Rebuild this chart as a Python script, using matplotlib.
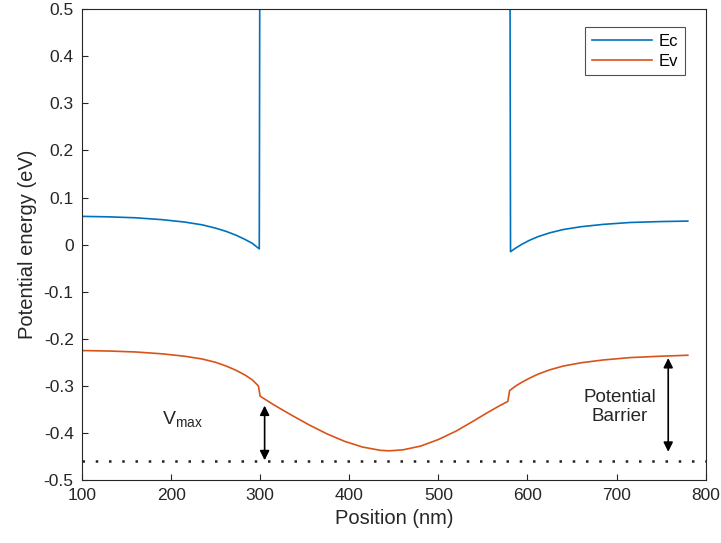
import matplotlib
matplotlib.use("Agg")
import matplotlib.pyplot as plt

plt.rcParams['font.family'] = ['Liberation Sans', 'DejaVu Sans']
plt.rcParams['mathtext.fontset'] = 'custom'
plt.rcParams['mathtext.rm'] = 'Liberation Sans'

# conduction band (Ec), goes off the top between 300 and 580 nm
ec_x = [100, 130, 160, 190, 215, 235, 250, 262, 273, 283, 291, 299, 300, 440, 580, 581, 587, 594, 602, 612, 625, 640,
        660, 685, 715, 750, 780]
ec_y = [0.060, 0.059, 0.057, 0.053, 0.048, 0.042, 0.035, 0.028, 0.020, 0.011, 0.003, -0.009, 1.0, 1.0, 1.0, -0.015,
        -0.007, 0.001, 0.009, 0.017, 0.025, 0.032, 0.038, 0.043, 0.047, 0.049, 0.050]

# valence band (Ev)
ev_x = [100, 130, 160, 190, 215, 235, 250, 262, 273, 283, 291, 298, 300, 315, 335, 355, 375, 395, 415, 435, 445,
        460, 480, 500, 520, 540, 555, 568, 578, 580, 587, 594, 602, 612, 625, 640, 660, 685, 715, 750, 780]
ev_y = [-0.225, -0.226, -0.228, -0.232, -0.237, -0.243, -0.250, -0.258, -0.267, -0.277, -0.287, -0.300, -0.322,
        -0.340, -0.362, -0.383, -0.402, -0.418, -0.430, -0.437, -0.438, -0.436, -0.428, -0.414, -0.396, -0.374,
        -0.357, -0.343, -0.333, -0.310, -0.300, -0.292, -0.284, -0.275, -0.266, -0.258, -0.251, -0.245, -0.240,
        -0.237, -0.235]

fermi = -0.46

fig = plt.figure(figsize=(7.21, 5.43), dpi=100)
ax = fig.add_axes([0.1137, 0.116, 0.865, 0.867])

ax.plot(ec_x, ec_y, color='#0072BD', lw=1.2, label='Ec')
ax.plot(ev_x, ev_y, color='#D95319', lw=1.2, label='Ev')
ax.plot([100, 800], [fermi, fermi], color='#222222', lw=1.8, linestyle=(0, (1, 4.3)))

arrow = dict(arrowstyle='<|-|>', color='black', lw=1.2, mutation_scale=14, shrinkA=0, shrinkB=0)
ax.annotate('', xy=(305, -0.458), xytext=(305, -0.342), arrowprops=arrow)
ax.annotate('', xy=(758, -0.44), xytext=(758, -0.241), arrowprops=arrow)

ax.text(213, -0.373, r'V$_{\mathrm{max}}$', fontsize=14, color='#262626', ha='center', va='center')
ax.text(704, -0.345, 'Potential\nBarrier', fontsize=13.5, color='#262626', ha='center', va='center', linespacing=1.15)

ax.set_xlim(100, 800)
ax.set_ylim(-0.5, 0.5)
ax.set_xticks(range(100, 801, 100))
ax.set_yticks([-0.5, -0.4, -0.3, -0.2, -0.1, 0, 0.1, 0.2, 0.3, 0.4, 0.5])
ax.set_yticklabels(['-0.5', '-0.4', '-0.3', '-0.2', '-0.1', '0', '0.1', '0.2', '0.3', '0.4', '0.5'])
ax.tick_params(direction='in', length=4, labelsize=12.5, colors='#262626', top=False, right=False, pad=6)
for s in ax.spines.values():
    s.set_color('#262626')
    s.set_linewidth(0.8)

ax.set_xlabel('Position (nm)', fontsize=14.5, color='#262626', labelpad=4)
ax.set_ylabel('Potential energy (eV)', fontsize=14.5, color='#262626', labelpad=5)

leg = ax.legend(loc='upper right', fontsize=12, frameon=True, fancybox=False,
                edgecolor='#262626', handlelength=3.6, borderpad=0.4, labelspacing=0.3,
                handletextpad=0.4, bbox_to_anchor=(0.98, 0.98))
leg.get_frame().set_linewidth(0.8)

fig.savefig('out.png', dpi=100)
